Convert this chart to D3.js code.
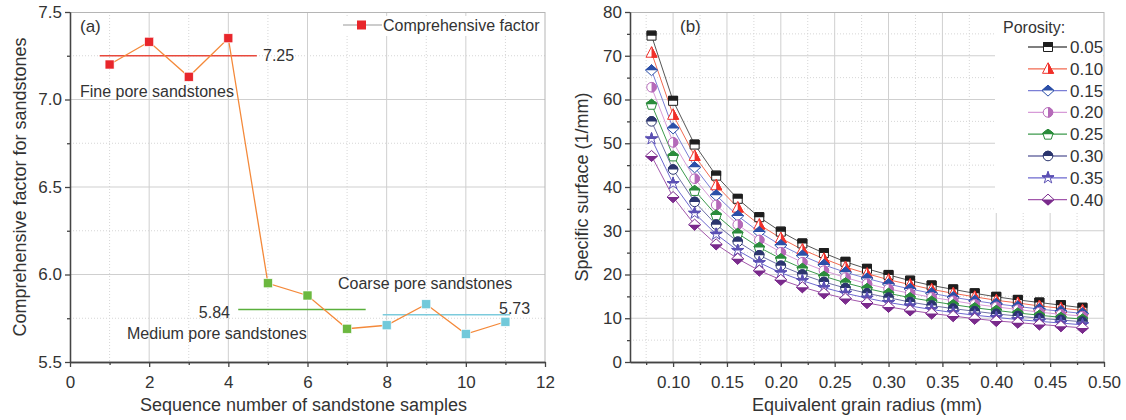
<!DOCTYPE html>
<html>
<head>
<meta charset="utf-8">
<script src="https://cdn.jsdelivr.net/npm/d3@7"></script>
<style>
  body { margin: 0; background: #fff; }
  text { font-family: "Liberation Sans", Arial, sans-serif; fill: #333; }
  .grid-major { stroke: #cfcfcf; stroke-width: 1; }
  .grid-minor { stroke: #d6d6d6; stroke-width: 1; stroke-dasharray: 1,2; }
  .axis path, .axis line { stroke: #444; stroke-width: 1.3; }
  .axis text { font-size: 17px; fill: #333; }
</style>
</head>
<body>
<div id="chart"></div>
<script>
// Panel (a) data
var sampleNo = [1, 2, 3, 4, 5, 6, 7, 8, 9, 10, 11];
var factor = [7.20, 7.33, 7.13, 7.35, 5.95, 5.88, 5.69, 5.71, 5.83, 5.66, 5.73];
var sampleGroup = ["fine", "fine", "fine", "fine", "medium", "medium", "medium", "coarse", "coarse", "coarse", "coarse"];
var meanValue = [7.25, 5.80, 5.77];
var meanLabel = ["7.25", "5.84", "5.73"];
var meanFrom = [0.75, 4.25, 7.9];
var meanTo = [4.72, 7.47, 11.12];

// Panel (b) data
var radius = [0.08, 0.10, 0.12, 0.14, 0.16, 0.18, 0.20, 0.22, 0.24, 0.26, 0.28,
              0.30, 0.32, 0.34, 0.36, 0.38, 0.40, 0.42, 0.44, 0.46, 0.48];
var porosity = ["0.05", "0.10", "0.15", "0.20", "0.25", "0.30", "0.35", "0.40"];
var s005 = [74.6, 59.7, 49.7, 42.6, 37.3, 33.1, 29.8, 27.1, 24.9, 22.9, 21.3, 19.9, 18.6, 17.5, 16.6, 15.7, 14.9, 14.2, 13.6, 13.0, 12.4];
var s010 = [70.7, 56.5, 47.1, 40.4, 35.3, 31.4, 28.3, 25.7, 23.6, 21.7, 20.2, 18.8, 17.7, 16.6, 15.7, 14.9, 14.1, 13.5, 12.8, 12.3, 11.8];
var s015 = [66.7, 53.4, 44.5, 38.1, 33.4, 29.7, 26.7, 24.3, 22.2, 20.5, 19.1, 17.8, 16.7, 15.7, 14.8, 14.0, 13.3, 12.7, 12.1, 11.6, 11.1];
var s020 = [62.8, 50.2, 41.9, 35.9, 31.4, 27.9, 25.1, 22.8, 20.9, 19.3, 17.9, 16.7, 15.7, 14.8, 14.0, 13.2, 12.6, 12.0, 11.4, 10.9, 10.5];
var s025 = [58.9, 47.1, 39.2, 33.6, 29.4, 26.2, 23.6, 21.4, 19.6, 18.1, 16.8, 15.7, 14.7, 13.9, 13.1, 12.4, 11.8, 11.2, 10.7, 10.2, 9.8];
var s030 = [55.0, 44.0, 36.6, 31.4, 27.5, 24.4, 22.0, 20.0, 18.3, 16.9, 15.7, 14.7, 13.7, 12.9, 12.2, 11.6, 11.0, 10.5, 10.0, 9.6, 9.2];
var s035 = [51.0, 40.8, 34.0, 29.2, 25.5, 22.7, 20.4, 18.6, 17.0, 15.7, 14.6, 13.6, 12.8, 12.0, 11.3, 10.7, 10.2, 9.7, 9.3, 8.9, 8.5];
var s040 = [47.1, 37.7, 31.4, 26.9, 23.6, 20.9, 18.8, 17.1, 15.7, 14.5, 13.5, 12.6, 11.8, 11.1, 10.5, 9.9, 9.4, 9.0, 8.6, 8.2, 7.8];
var surfaceSeries = [s005, s010, s015, s020, s025, s030, s035, s040];

// Styles
var groupColor = { fine: "#e8262b", medium: "#6cb83f", coarse: "#72c9da" };
var meanColor = ["#e8493c", "#5aaf3c", "#7ccbdc"];
var markColor = ["#1e1e1e", "#f0302a", "#2b4fa8", "#b56ab9", "#2b8c3c", "#2b356e", "#5b50b4", "#7a2a8c"];
var lineColor = ["#555555", "#f26a50", "#7b7fd6", "#d79bd8", "#3c9a4c", "#6f71a6", "#6d68cf", "#a257ab"];
var markShape = ["square", "triangle", "diamond", "circle", "pentagon", "circle", "star", "diamond"];
var markHalf = ["top", "right", "top", "right", "top", "top", "top", "bottom"];

var svgWidth = 1126;
var svgHeight = 420;

var svg = d3.select("#chart")
  .append("svg")
  .attr("width", svgWidth)
  .attr("height", svgHeight);

var defs = svg.append("defs");
var halfRects = {
  top: [-10, -10, 20, 10],
  bottom: [-10, 0, 20, 10],
  right: [0, -10, 10, 20]
};
Object.keys(halfRects).forEach(function(k) {
  var r = halfRects[k];
  defs.append("clipPath").attr("id", "half-" + k)
    .append("rect").attr("x", r[0]).attr("y", r[1]).attr("width", r[2]).attr("height", r[3]);
});

function shapePath(shape) {
  if (shape == "square") return "M-4.5,-4.5h9v9h-9Z";
  if (shape == "triangle") return "M0,-6L5.5,4.5L-5.5,4.5Z";
  if (shape == "diamond") return "M0,-5.5L6,0L0,5.5L-6,0Z";
  if (shape == "circle") return d3.symbol().type(d3.symbolCircle).size(72)();
  if (shape == "star") return d3.symbol().type(d3.symbolStar).size(45)();
  // pentagon
  var pts = d3.range(5).map(function(i) {
    var a = -Math.PI / 2 + i * 2 * Math.PI / 5;
    return [5.5 * Math.cos(a), 5.5 * Math.sin(a) + 0.5];
  });
  return "M" + pts.join("L") + "Z";
}

function drawMarker(sel, i) {
  var p = shapePath(markShape[i]);
  sel.append("path").attr("d", p)
    .attr("fill", "#fff").attr("stroke", markColor[i]).attr("stroke-width", 1);
  sel.append("path").attr("d", p)
    .attr("fill", markColor[i]).attr("stroke", markColor[i]).attr("stroke-width", 1)
    .attr("clip-path", "url(#half-" + markHalf[i] + ")");
}

// generic grid + frame
function drawGrid(g, x, y, xMaj, xMin, yMaj, yMin) {
  var w = x.range()[1], h = y.range()[0];
  g.selectAll(".gxm").data(xMin).enter().append("line").attr("class", "grid-minor")
    .attr("x1", d => x(d)).attr("x2", d => x(d)).attr("y1", 0).attr("y2", h);
  g.selectAll(".gym").data(yMin).enter().append("line").attr("class", "grid-minor")
    .attr("y1", d => y(d)).attr("y2", d => y(d)).attr("x1", 0).attr("x2", w);
  g.selectAll(".gx").data(xMaj).enter().append("line").attr("class", "grid-major")
    .attr("x1", d => x(d)).attr("x2", d => x(d)).attr("y1", 0).attr("y2", h);
  g.selectAll(".gy").data(yMaj).enter().append("line").attr("class", "grid-major")
    .attr("y1", d => y(d)).attr("y2", d => y(d)).attr("x1", 0).attr("x2", w);
  g.append("line").attr("x1", 0).attr("x2", w).attr("y1", 0.5).attr("y2", 0.5)
    .attr("stroke", "#b5b5b5");
  g.append("line").attr("x1", w).attr("x2", w).attr("y1", 0).attr("y2", h)
    .attr("stroke", "#b5b5b5");
}

function drawAxes(g, x, y, xMaj, xMin, yMaj, yMin, xFmt, yFmt) {
  var h = y.range()[0];
  g.append("g").attr("class", "axis").attr("transform", `translate(0,${h})`)
    .call(d3.axisBottom(x).tickValues(xMin).tickSize(3).tickSizeOuter(0).tickFormat(""));
  g.append("g").attr("class", "axis").attr("transform", `translate(0,${h})`)
    .call(d3.axisBottom(x).tickValues(xMaj).tickSize(5).tickSizeOuter(0).tickPadding(9).tickFormat(xFmt));
  g.append("g").attr("class", "axis")
    .call(d3.axisLeft(y).tickValues(yMin).tickSize(3).tickSizeOuter(0).tickFormat(""));
  g.append("g").attr("class", "axis")
    .call(d3.axisLeft(y).tickValues(yMaj).tickSize(5).tickSizeOuter(0).tickPadding(3).tickFormat(yFmt));
}

// ---------------- Panel (a) ----------------
var marginA = { left: 70, top: 12 };
var widthA = 475, heightA = 350;
var gA = svg.append("g").attr("transform", `translate(${marginA.left}, ${marginA.top})`);
var xA = d3.scaleLinear().domain([0, 12]).range([0, widthA]);
var yA = d3.scaleLinear().domain([5.5, 7.5]).range([heightA, 0]);

drawGrid(gA, xA, yA, [2, 4, 6, 8, 10], [1, 3, 5, 7, 9, 11], [6.0, 6.5, 7.0], [5.75, 6.25, 6.75, 7.25]);

// legend background
gA.append("rect").attr("x", 268).attr("y", 4).attr("width", 204).attr("height", 20).attr("fill", "#fff");

// mean lines
gA.selectAll(".mean").data(meanValue).enter().append("line")
  .attr("x1", (d, i) => xA(meanFrom[i])).attr("x2", (d, i) => xA(meanTo[i]))
  .attr("y1", d => yA(d)).attr("y2", d => yA(d))
  .attr("stroke", (d, i) => meanColor[i]).attr("stroke-width", 1.5);

// connecting line
var lineA = d3.line().x((d, i) => xA(sampleNo[i])).y(d => yA(d));
gA.append("path").datum(factor).attr("d", lineA)
  .attr("fill", "none").attr("stroke", "#f4893a").attr("stroke-width", 1.3);

gA.selectAll(".pt").data(factor).enter().append("rect")
  .attr("x", (d, i) => xA(sampleNo[i]) - 4.5).attr("y", d => yA(d) - 4.5)
  .attr("width", 9).attr("height", 9)
  .attr("fill", (d, i) => groupColor[sampleGroup[i]])
  .attr("stroke", "#fff").attr("stroke-width", 0.6);

drawAxes(gA, xA, yA, [0, 2, 4, 6, 8, 10, 12], [1, 3, 5, 7, 9, 11],
  [5.5, 6.0, 6.5, 7.0, 7.5], [5.75, 6.25, 6.75, 7.25], d3.format("d"), d3.format(".1f"));

// annotations
gA.append("text").attr("x", 10).attr("y", 20).style("font-size", "17px").text("(a)");
gA.append("text").attr("x", 193).attr("y", 49).style("font-size", "16px").text(meanLabel[0]);
gA.append("text").attr("x", 10).attr("y", 85).style("font-size", "16px").text("Fine pore sandstones");
gA.append("text").attr("x", 268).attr("y", 277).style("font-size", "16px").text("Coarse pore sandstones");
gA.append("text").attr("x", 160).attr("y", 306).attr("text-anchor", "end").style("font-size", "16px").text(meanLabel[1]);
gA.append("text").attr("x", 57).attr("y", 327).style("font-size", "16px").text("Medium pore sandstones");
gA.append("text").attr("x", 429).attr("y", 302).style("font-size", "16px").text(meanLabel[2]);

// legend
gA.append("line").attr("x1", 273).attr("x2", 312).attr("y1", 13).attr("y2", 13)
  .attr("stroke", "#999").attr("stroke-width", 1);
gA.append("rect").attr("x", 287).attr("y", 8.5).attr("width", 9).attr("height", 9).attr("fill", "#e8262b");
gA.append("text").attr("x", 313).attr("y", 19).style("font-size", "16px").text("Comprehensive factor");

// axis titles
svg.append("text").attr("x", marginA.left + widthA / 2 - 4).attr("y", 411)
  .attr("text-anchor", "middle").style("font-size", "18px").text("Sequence number of sandstone samples");
svg.append("text").attr("transform", `translate(26, ${marginA.top + heightA / 2}) rotate(-90)`)
  .attr("text-anchor", "middle").style("font-size", "18px").text("Comprehensive factor for sandstones");

// ---------------- Panel (b) ----------------
var marginB = { left: 630, top: 12 };
var widthB = 474, heightB = 350;
var gB = svg.append("g").attr("transform", `translate(${marginB.left}, ${marginB.top})`);
var xB = d3.scaleLinear().domain([0.06, 0.50]).range([0, widthB]);
var yB = d3.scaleLinear().domain([0, 80]).range([heightB, 0]);

var xMajB = [0.10, 0.15, 0.20, 0.25, 0.30, 0.35, 0.40, 0.45, 0.50];
var xMinB = [0.075, 0.125, 0.175, 0.225, 0.275, 0.325, 0.375, 0.425, 0.475];
drawGrid(gB, xB, yB, xMajB.slice(0, 8), xMinB, [10, 20, 30, 40, 50, 60, 70], [5, 15, 25, 35, 45, 55, 65, 75]);

// legend background
gB.append("rect").attr("x", 365).attr("y", 1).attr("width", 108).attr("height", 200).attr("fill", "#fff");

var lineB = d3.line().x((d, i) => xB(radius[i])).y(d => yB(d));
surfaceSeries.forEach(function(series, si) {
  gB.append("path").datum(series).attr("d", lineB)
    .attr("fill", "none").attr("stroke", lineColor[si]).attr("stroke-width", 1);
});
surfaceSeries.forEach(function(series, si) {
  gB.selectAll(".m" + si).data(series).enter().append("g")
    .attr("transform", (d, i) => `translate(${xB(radius[i])}, ${yB(d)})`)
    .each(function() { drawMarker(d3.select(this), si); });
});

drawAxes(gB, xB, yB, xMajB, xMinB,
  [0, 10, 20, 30, 40, 50, 60, 70, 80], [5, 15, 25, 35, 45, 55, 65, 75], d3.format(".2f"), d3.format("d"));

gB.append("text").attr("x", 50).attr("y", 20).style("font-size", "17px").text("(b)");

// legend
gB.append("text").attr("x", 373).attr("y", 21).style("font-size", "16px").text("Porosity:");
var legB = gB.selectAll(".leg").data(porosity).enter().append("g")
  .attr("transform", (d, i) => `translate(0, ${35 + i * 21.8})`);
legB.append("line").attr("x1", 398).attr("x2", 437).attr("y1", 0).attr("y2", 0)
  .attr("stroke", (d, i) => lineColor[i]).attr("stroke-width", 1.3);
legB.append("g").attr("transform", "translate(418,0)")
  .each(function(d, i) { drawMarker(d3.select(this), i); });
legB.append("text").attr("x", 440).attr("y", 6).style("font-size", "17px").text(d => d);

// axis titles
svg.append("text").attr("x", marginB.left + widthB / 2).attr("y", 411)
  .attr("text-anchor", "middle").style("font-size", "18px").text("Equivalent grain radius (mm)");
svg.append("text").attr("transform", `translate(588, ${marginB.top + heightB / 2}) rotate(-90)`)
  .attr("text-anchor", "middle").style("font-size", "18px").text("Specific surface (1/mm)");
</script>
</body>
</html>
